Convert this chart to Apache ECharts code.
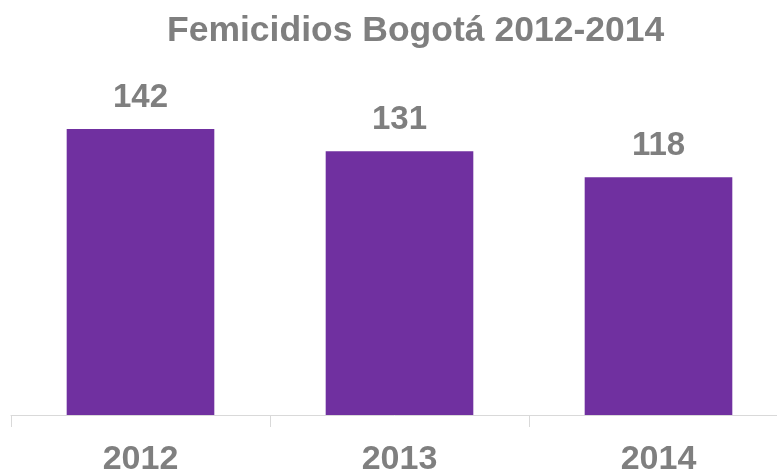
<!DOCTYPE html>
<html>
<head>
<meta charset="utf-8">
<script src="https://cdn.jsdelivr.net/npm/echarts@6/dist/echarts.min.js"></script>
<style>
  html, body { margin: 0; padding: 0; background: #fff; }
  #main { width: 777px; height: 471px; }
</style>
</head>
<body>
<div id="main"></div>
<script>
var years = ["2012", "2013", "2014"];
var femicidios = [142, 131, 118];

var myChart = echarts.init(document.getElementById("main"));
myChart.setOption({
  animation: false,
  title: {
    text: "Femicidios Bogotá 2012-2014",
    left: 162,
    top: 8,
    textStyle: {
      fontFamily: "Liberation Sans, Arial, sans-serif",
      fontSize: 35.5,
      fontWeight: "bold",
      color: "#7f7f7f"
    }
  },
  grid: {
    left: 11,
    width: 777,
    top: 52.5,
    bottom: 56,
    containLabel: false,
    outerBoundsMode: "none"
  },
  xAxis: {
    type: "category",
    data: years,
    axisLine: { lineStyle: { color: "#d9d9d9", width: 1 } },
    axisTick: { show: true, length: 12, lineStyle: { color: "#d9d9d9" } },
    axisLabel: {
      margin: 28,
      fontFamily: "Liberation Sans, Arial, sans-serif",
      fontSize: 34,
      fontWeight: "bold",
      color: "#7f7f7f"
    }
  },
  yAxis: {
    type: "value",
    min: 0,
    max: 180,
    show: false,
    splitLine: { show: false }
  },
  series: [
    {
      type: "bar",
      data: femicidios,
      barWidth: "57%",
      itemStyle: { color: "#7030a0" },
      label: {
        show: true,
        position: "top",
        distance: 15,
        fontFamily: "Liberation Sans, Arial, sans-serif",
        fontSize: 33,
        fontWeight: "bold",
        color: "#7f7f7f"
      }
    }
  ]
});
</script>
</body>
</html>
